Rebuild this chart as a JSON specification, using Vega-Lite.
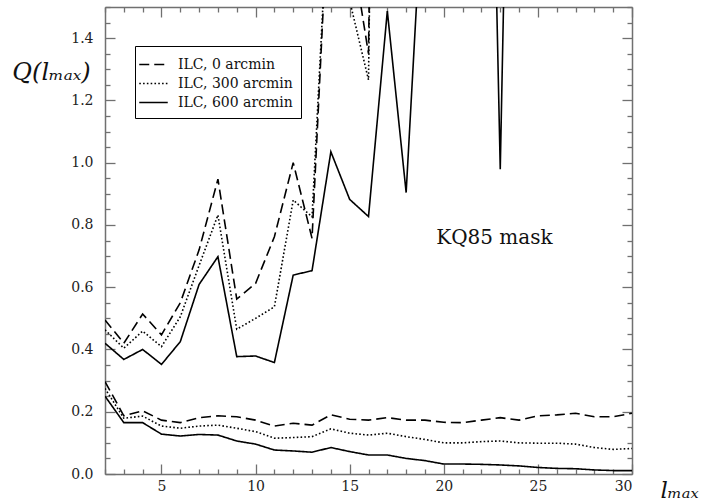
{
  "$schema": "https://vega.github.io/schema/vega-lite/v6.json",
  "width": 527,
  "height": 467,
  "autosize": {"type": "none"},
  "padding": {"left": 105, "top": 7, "right": 83, "bottom": 30},
  "background": "white",
  "config": {
    "view": {"stroke": null},
    "font": "DejaVu Serif",
    "axis": {
      "domainColor": "#707070",
      "domainWidth": 1.5,
      "tickColor": "#707070",
      "tickWidth": 1.3,
      "grid": false,
      "labelFont": "DejaVu Serif",
      "labelFontSize": 14,
      "labelColor": "#222",
      "titleFont": "DejaVu Serif",
      "titleFontWeight": "normal",
      "titleColor": "#111"
    },
    "legend": {
      "labelFont": "DejaVu Serif",
      "labelFontSize": 13.5,
      "labelColor": "#111"
    }
  },
  "layer": [
    {
      "data": {
        "values": [
          {"l":2,"q":0.495,"s":"ILC, 0 arcmin","g":"u"},{"l":3,"q":0.42,"s":"ILC, 0 arcmin","g":"u"},{"l":4,"q":0.514,"s":"ILC, 0 arcmin","g":"u"},{"l":5,"q":0.447,"s":"ILC, 0 arcmin","g":"u"},{"l":6,"q":0.55,"s":"ILC, 0 arcmin","g":"u"},{"l":7,"q":0.72,"s":"ILC, 0 arcmin","g":"u"},{"l":8,"q":0.947,"s":"ILC, 0 arcmin","g":"u"},{"l":9,"q":0.562,"s":"ILC, 0 arcmin","g":"u"},{"l":10,"q":0.612,"s":"ILC, 0 arcmin","g":"u"},{"l":11,"q":0.762,"s":"ILC, 0 arcmin","g":"u"},{"l":12,"q":1.0,"s":"ILC, 0 arcmin","g":"u"},{"l":13,"q":0.757,"s":"ILC, 0 arcmin","g":"u"},{"l":14,"q":2.0,"s":"ILC, 0 arcmin","g":"u"},{"l":15,"q":1.73,"s":"ILC, 0 arcmin","g":"u"},{"l":16,"q":1.35,"s":"ILC, 0 arcmin","g":"u"},{"l":17,"q":6.0,"s":"ILC, 0 arcmin","g":"u"},{"l":18,"q":6.0,"s":"ILC, 0 arcmin","g":"u"},{"l":19,"q":6.0,"s":"ILC, 0 arcmin","g":"u"},{"l":20,"q":6.0,"s":"ILC, 0 arcmin","g":"u"},{"l":21,"q":6.0,"s":"ILC, 0 arcmin","g":"u"},{"l":22,"q":6.0,"s":"ILC, 0 arcmin","g":"u"},{"l":23,"q":6.0,"s":"ILC, 0 arcmin","g":"u"},{"l":24,"q":6.0,"s":"ILC, 0 arcmin","g":"u"},{"l":25,"q":6.0,"s":"ILC, 0 arcmin","g":"u"},{"l":26,"q":6.0,"s":"ILC, 0 arcmin","g":"u"},{"l":27,"q":6.0,"s":"ILC, 0 arcmin","g":"u"},{"l":28,"q":6.0,"s":"ILC, 0 arcmin","g":"u"},{"l":29,"q":6.0,"s":"ILC, 0 arcmin","g":"u"},{"l":30,"q":6.0,"s":"ILC, 0 arcmin","g":"u"},
          {"l":2,"q":0.463,"s":"ILC, 300 arcmin","g":"u"},{"l":3,"q":0.404,"s":"ILC, 300 arcmin","g":"u"},{"l":4,"q":0.459,"s":"ILC, 300 arcmin","g":"u"},{"l":5,"q":0.409,"s":"ILC, 300 arcmin","g":"u"},{"l":6,"q":0.505,"s":"ILC, 300 arcmin","g":"u"},{"l":7,"q":0.67,"s":"ILC, 300 arcmin","g":"u"},{"l":8,"q":0.832,"s":"ILC, 300 arcmin","g":"u"},{"l":9,"q":0.465,"s":"ILC, 300 arcmin","g":"u"},{"l":10,"q":0.5,"s":"ILC, 300 arcmin","g":"u"},{"l":11,"q":0.537,"s":"ILC, 300 arcmin","g":"u"},{"l":12,"q":0.88,"s":"ILC, 300 arcmin","g":"u"},{"l":13,"q":0.826,"s":"ILC, 300 arcmin","g":"u"},{"l":14,"q":2.0,"s":"ILC, 300 arcmin","g":"u"},{"l":15,"q":1.52,"s":"ILC, 300 arcmin","g":"u"},{"l":16,"q":1.266,"s":"ILC, 300 arcmin","g":"u"},{"l":17,"q":6.0,"s":"ILC, 300 arcmin","g":"u"},{"l":18,"q":6.0,"s":"ILC, 300 arcmin","g":"u"},{"l":19,"q":6.0,"s":"ILC, 300 arcmin","g":"u"},{"l":20,"q":6.0,"s":"ILC, 300 arcmin","g":"u"},{"l":21,"q":6.0,"s":"ILC, 300 arcmin","g":"u"},{"l":22,"q":6.0,"s":"ILC, 300 arcmin","g":"u"},{"l":23,"q":6.0,"s":"ILC, 300 arcmin","g":"u"},{"l":24,"q":6.0,"s":"ILC, 300 arcmin","g":"u"},{"l":25,"q":6.0,"s":"ILC, 300 arcmin","g":"u"},{"l":26,"q":6.0,"s":"ILC, 300 arcmin","g":"u"},{"l":27,"q":6.0,"s":"ILC, 300 arcmin","g":"u"},{"l":28,"q":6.0,"s":"ILC, 300 arcmin","g":"u"},{"l":29,"q":6.0,"s":"ILC, 300 arcmin","g":"u"},{"l":30,"q":6.0,"s":"ILC, 300 arcmin","g":"u"},
          {"l":2,"q":0.42,"s":"ILC, 600 arcmin","g":"u"},{"l":3,"q":0.368,"s":"ILC, 600 arcmin","g":"u"},{"l":4,"q":0.4,"s":"ILC, 600 arcmin","g":"u"},{"l":5,"q":0.352,"s":"ILC, 600 arcmin","g":"u"},{"l":6,"q":0.425,"s":"ILC, 600 arcmin","g":"u"},{"l":7,"q":0.609,"s":"ILC, 600 arcmin","g":"u"},{"l":8,"q":0.698,"s":"ILC, 600 arcmin","g":"u"},{"l":9,"q":0.377,"s":"ILC, 600 arcmin","g":"u"},{"l":10,"q":0.379,"s":"ILC, 600 arcmin","g":"u"},{"l":11,"q":0.358,"s":"ILC, 600 arcmin","g":"u"},{"l":12,"q":0.639,"s":"ILC, 600 arcmin","g":"u"},{"l":13,"q":0.653,"s":"ILC, 600 arcmin","g":"u"},{"l":14,"q":1.035,"s":"ILC, 600 arcmin","g":"u"},{"l":15,"q":0.882,"s":"ILC, 600 arcmin","g":"u"},{"l":16,"q":0.827,"s":"ILC, 600 arcmin","g":"u"},{"l":17,"q":1.487,"s":"ILC, 600 arcmin","g":"u"},{"l":18,"q":0.904,"s":"ILC, 600 arcmin","g":"u"},{"l":19,"q":2.0,"s":"ILC, 600 arcmin","g":"u"},{"l":20,"q":2.8,"s":"ILC, 600 arcmin","g":"u"},{"l":21,"q":3.3,"s":"ILC, 600 arcmin","g":"u"},{"l":22,"q":3.8,"s":"ILC, 600 arcmin","g":"u"},{"l":23,"q":0.979,"s":"ILC, 600 arcmin","g":"u"},{"l":24,"q":4.0,"s":"ILC, 600 arcmin","g":"u"},{"l":25,"q":4.5,"s":"ILC, 600 arcmin","g":"u"},{"l":26,"q":4.8,"s":"ILC, 600 arcmin","g":"u"},{"l":27,"q":5.0,"s":"ILC, 600 arcmin","g":"u"},{"l":28,"q":5.2,"s":"ILC, 600 arcmin","g":"u"},{"l":29,"q":5.4,"s":"ILC, 600 arcmin","g":"u"},{"l":30,"q":5.6,"s":"ILC, 600 arcmin","g":"u"},
          {"l":2,"q":0.297,"s":"ILC, 0 arcmin","g":"d"},{"l":3,"q":0.187,"s":"ILC, 0 arcmin","g":"d"},{"l":4,"q":0.203,"s":"ILC, 0 arcmin","g":"d"},{"l":5,"q":0.173,"s":"ILC, 0 arcmin","g":"d"},{"l":6,"q":0.165,"s":"ILC, 0 arcmin","g":"d"},{"l":7,"q":0.181,"s":"ILC, 0 arcmin","g":"d"},{"l":8,"q":0.187,"s":"ILC, 0 arcmin","g":"d"},{"l":9,"q":0.184,"s":"ILC, 0 arcmin","g":"d"},{"l":10,"q":0.173,"s":"ILC, 0 arcmin","g":"d"},{"l":11,"q":0.154,"s":"ILC, 0 arcmin","g":"d"},{"l":12,"q":0.163,"s":"ILC, 0 arcmin","g":"d"},{"l":13,"q":0.157,"s":"ILC, 0 arcmin","g":"d"},{"l":14,"q":0.19,"s":"ILC, 0 arcmin","g":"d"},{"l":15,"q":0.176,"s":"ILC, 0 arcmin","g":"d"},{"l":16,"q":0.173,"s":"ILC, 0 arcmin","g":"d"},{"l":17,"q":0.181,"s":"ILC, 0 arcmin","g":"d"},{"l":18,"q":0.173,"s":"ILC, 0 arcmin","g":"d"},{"l":19,"q":0.173,"s":"ILC, 0 arcmin","g":"d"},{"l":20,"q":0.166,"s":"ILC, 0 arcmin","g":"d"},{"l":21,"q":0.165,"s":"ILC, 0 arcmin","g":"d"},{"l":22,"q":0.173,"s":"ILC, 0 arcmin","g":"d"},{"l":23,"q":0.181,"s":"ILC, 0 arcmin","g":"d"},{"l":24,"q":0.173,"s":"ILC, 0 arcmin","g":"d"},{"l":25,"q":0.187,"s":"ILC, 0 arcmin","g":"d"},{"l":26,"q":0.19,"s":"ILC, 0 arcmin","g":"d"},{"l":27,"q":0.195,"s":"ILC, 0 arcmin","g":"d"},{"l":28,"q":0.184,"s":"ILC, 0 arcmin","g":"d"},{"l":29,"q":0.184,"s":"ILC, 0 arcmin","g":"d"},{"l":30,"q":0.195,"s":"ILC, 0 arcmin","g":"d"},
          {"l":2,"q":0.275,"s":"ILC, 300 arcmin","g":"d"},{"l":3,"q":0.179,"s":"ILC, 300 arcmin","g":"d"},{"l":4,"q":0.186,"s":"ILC, 300 arcmin","g":"d"},{"l":5,"q":0.154,"s":"ILC, 300 arcmin","g":"d"},{"l":6,"q":0.147,"s":"ILC, 300 arcmin","g":"d"},{"l":7,"q":0.154,"s":"ILC, 300 arcmin","g":"d"},{"l":8,"q":0.157,"s":"ILC, 300 arcmin","g":"d"},{"l":9,"q":0.147,"s":"ILC, 300 arcmin","g":"d"},{"l":10,"q":0.136,"s":"ILC, 300 arcmin","g":"d"},{"l":11,"q":0.115,"s":"ILC, 300 arcmin","g":"d"},{"l":12,"q":0.117,"s":"ILC, 300 arcmin","g":"d"},{"l":13,"q":0.12,"s":"ILC, 300 arcmin","g":"d"},{"l":14,"q":0.145,"s":"ILC, 300 arcmin","g":"d"},{"l":15,"q":0.131,"s":"ILC, 300 arcmin","g":"d"},{"l":16,"q":0.125,"s":"ILC, 300 arcmin","g":"d"},{"l":17,"q":0.131,"s":"ILC, 300 arcmin","g":"d"},{"l":18,"q":0.12,"s":"ILC, 300 arcmin","g":"d"},{"l":19,"q":0.111,"s":"ILC, 300 arcmin","g":"d"},{"l":20,"q":0.1,"s":"ILC, 300 arcmin","g":"d"},{"l":21,"q":0.1,"s":"ILC, 300 arcmin","g":"d"},{"l":22,"q":0.104,"s":"ILC, 300 arcmin","g":"d"},{"l":23,"q":0.106,"s":"ILC, 300 arcmin","g":"d"},{"l":24,"q":0.1,"s":"ILC, 300 arcmin","g":"d"},{"l":25,"q":0.099,"s":"ILC, 300 arcmin","g":"d"},{"l":26,"q":0.099,"s":"ILC, 300 arcmin","g":"d"},{"l":27,"q":0.096,"s":"ILC, 300 arcmin","g":"d"},{"l":28,"q":0.085,"s":"ILC, 300 arcmin","g":"d"},{"l":29,"q":0.079,"s":"ILC, 300 arcmin","g":"d"},{"l":30,"q":0.082,"s":"ILC, 300 arcmin","g":"d"},
          {"l":2,"q":0.25,"s":"ILC, 600 arcmin","g":"d"},{"l":3,"q":0.165,"s":"ILC, 600 arcmin","g":"d"},{"l":4,"q":0.165,"s":"ILC, 600 arcmin","g":"d"},{"l":5,"q":0.128,"s":"ILC, 600 arcmin","g":"d"},{"l":6,"q":0.122,"s":"ILC, 600 arcmin","g":"d"},{"l":7,"q":0.127,"s":"ILC, 600 arcmin","g":"d"},{"l":8,"q":0.125,"s":"ILC, 600 arcmin","g":"d"},{"l":9,"q":0.106,"s":"ILC, 600 arcmin","g":"d"},{"l":10,"q":0.096,"s":"ILC, 600 arcmin","g":"d"},{"l":11,"q":0.077,"s":"ILC, 600 arcmin","g":"d"},{"l":12,"q":0.074,"s":"ILC, 600 arcmin","g":"d"},{"l":13,"q":0.07,"s":"ILC, 600 arcmin","g":"d"},{"l":14,"q":0.085,"s":"ILC, 600 arcmin","g":"d"},{"l":15,"q":0.072,"s":"ILC, 600 arcmin","g":"d"},{"l":16,"q":0.061,"s":"ILC, 600 arcmin","g":"d"},{"l":17,"q":0.061,"s":"ILC, 600 arcmin","g":"d"},{"l":18,"q":0.05,"s":"ILC, 600 arcmin","g":"d"},{"l":19,"q":0.043,"s":"ILC, 600 arcmin","g":"d"},{"l":20,"q":0.032,"s":"ILC, 600 arcmin","g":"d"},{"l":21,"q":0.032,"s":"ILC, 600 arcmin","g":"d"},{"l":22,"q":0.031,"s":"ILC, 600 arcmin","g":"d"},{"l":23,"q":0.029,"s":"ILC, 600 arcmin","g":"d"},{"l":24,"q":0.026,"s":"ILC, 600 arcmin","g":"d"},{"l":25,"q":0.021,"s":"ILC, 600 arcmin","g":"d"},{"l":26,"q":0.018,"s":"ILC, 600 arcmin","g":"d"},{"l":27,"q":0.017,"s":"ILC, 600 arcmin","g":"d"},{"l":28,"q":0.013,"s":"ILC, 600 arcmin","g":"d"},{"l":29,"q":0.011,"s":"ILC, 600 arcmin","g":"d"},{"l":30,"q":0.011,"s":"ILC, 600 arcmin","g":"d"}
        ]
      },
      "mark": {"type": "line", "color": "black", "strokeWidth": 1.6, "clip": true},
      "encoding": {
        "x": {
          "field": "l", "type": "quantitative",
          "scale": {"domain": [2, 30], "nice": false, "zero": false},
          "axis": {
            "orient": "bottom",
            "values": [2,3,4,5,6,7,8,9,10,11,12,13,14,15,16,17,18,19,20,21,22,23,24,25,26,27,28,29,30],
            "tickSize": {"condition": {"test": "datum.value % 5 == 0", "value": -10}, "value": -5},
            "labelExpr": "datum.value % 5 == 0 ? datum.label : ''",
            "labelFont": "DejaVu Serif",
            "labelFontSize": 14,
            "labelPadding": 15,
            "title": "lₘₐₓ",
            "titleFont": "DejaVu Serif",
            "titleFontSize": 23,
            "titleFontStyle": "italic",
            "titleAngle": 0,
            "titleX": 574,
            "titleY": 16,
            "titleAlign": "center",
            "titleBaseline": "middle"
          }
        },
        "y": {
          "field": "q", "type": "quantitative",
          "scale": {"domain": [0, 1.5], "nice": false},
          "axis": {
            "orient": "left",
            "values": [0,0.05,0.1,0.15,0.2,0.25,0.3,0.35,0.4,0.45,0.5,0.55,0.6,0.65,0.7,0.75,0.8,0.85,0.9,0.95,1.0,1.05,1.1,1.15,1.2,1.25,1.3,1.35,1.4,1.45,1.5],
            "tickSize": {"condition": {"test": "abs(datum.value*5 - round(datum.value*5)) < 0.001", "value": -10}, "value": -5},
            "labelExpr": "abs(datum.value*5 - round(datum.value*5)) < 0.001 ? format(datum.value, '.1f') : ''",
            "labelFont": "DejaVu Serif",
            "labelFontSize": 14,
            "labelPadding": 22,
            "title": "Q(lₘₐₓ)",
            "titleFont": "DejaVu Serif",
            "titleFontSize": 24,
            "titleFontStyle": "italic",
            "titleAngle": 0,
            "titleX": -54,
            "titleY": 65,
            "titleAlign": "center",
            "titleBaseline": "middle"
          }
        },
        "strokeDash": {
          "field": "s", "type": "nominal",
          "scale": {"domain": ["ILC, 0 arcmin", "ILC, 300 arcmin", "ILC, 600 arcmin"], "range": [[10, 5], [1.6, 2.2], [1, 0]]},
          "legend": {
            "title": null,
            "orient": "none",
            "legendX": 30,
            "legendY": 39,
            "strokeColor": "black",
            "fillColor": "white",
            "padding": 8,
            "symbolType": "M-1.5,0L1.5,0",
            "symbolSize": 361,
            "symbolStrokeWidth": 1.5,
            "symbolStrokeColor": "black",
            "symbolFillColor": "transparent",
            "labelFont": "DejaVu Serif",
            "labelFontSize": 14,
            "labelOffset": 14,
            "rowPadding": 1
          }
        },
        "detail": {"field": "g", "type": "nominal"}
      }
    },
    {
      "data": {"values": [{"l": 22.69, "q": 0.7565, "t": "KQ85 mask"}]},
      "mark": {"type": "text", "font": "DejaVu Serif", "fontSize": 20, "color": "#111", "align": "center", "baseline": "middle"},
      "encoding": {
        "x": {
          "field": "l", "type": "quantitative",
          "scale": {"domain": [2, 30], "nice": false, "zero": false},
          "axis": {
            "orient": "top",
            "values": [2,3,4,5,6,7,8,9,10,11,12,13,14,15,16,17,18,19,20,21,22,23,24,25,26,27,28,29,30],
            "tickSize": {"condition": {"test": "datum.value % 5 == 0", "value": -10}, "value": -5},
            "labels": false,
            "title": null
          }
        },
        "y": {
          "field": "q", "type": "quantitative",
          "scale": {"domain": [0, 1.5], "nice": false},
          "axis": {
            "orient": "right",
            "values": [0,0.05,0.1,0.15,0.2,0.25,0.3,0.35,0.4,0.45,0.5,0.55,0.6,0.65,0.7,0.75,0.8,0.85,0.9,0.95,1.0,1.05,1.1,1.15,1.2,1.25,1.3,1.35,1.4,1.45,1.5],
            "tickSize": {"condition": {"test": "abs(datum.value*5 - round(datum.value*5)) < 0.001", "value": -10}, "value": -5},
            "labels": false,
            "title": null
          }
        },
        "text": {"field": "t", "type": "nominal"}
      }
    }
  ],
  "resolve": {"axis": {"x": "independent", "y": "independent"}}
}
